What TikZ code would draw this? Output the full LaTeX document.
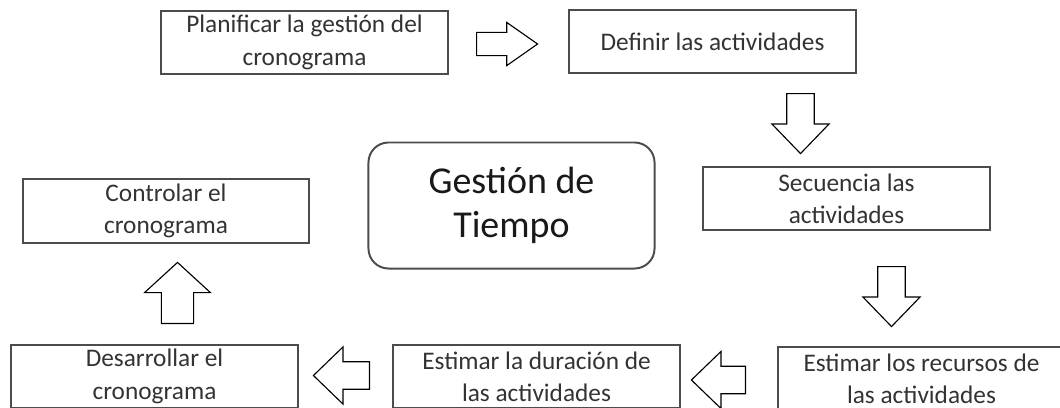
\documentclass[tikz,border=0pt]{standalone}
\usepackage{fontspec}
\setmainfont{Carlito}
\usetikzlibrary{shapes.arrows}

\begin{document}
\begin{tikzpicture}
[x=0.025cm,y=-0.025cm,
 stepbox/.style={rectangle,draw=black!70,line width=1.4pt,minimum width=7.15cm,
   minimum height=1.58cm,inner sep=0pt,align=center,text=black!80,
   font=\fontsize{18}{23}\selectfont},
 centerbox/.style={rectangle,rounded corners=0.5cm,draw=black!70,line width=1.4pt,
   minimum width=7.15cm,minimum height=3.15cm,align=center,text=black!90,
   font=\fontsize{27}{31}\selectfont},
 barrow/.style={single arrow,draw,fill=white,line width=0.8pt,inner xsep=0pt,
   inner ysep=0.33cm,single arrow head extend=0.37cm,minimum height=1.5cm,
   single arrow tip angle=88,anchor=tail}]
   \useasboundingbox (0,0) rectangle (1060,408);
   \clip (0,0) rectangle (1060,408);
   \node[stepbox] (s_1) at (304.5,42.5) {Planificar la gestión del\\cronograma};
   \node[stepbox] (s_2) at (712.5,41.5) {Definir las actividades};
   \node[stepbox] (s_3) at (846.5,198.5) {Secuencia las\\actividades};
   \node[stepbox] (s_4) at (921.5,378.5) {Estimar los recursos de\\las actividades};
   \node[stepbox] (s_5) at (536.5,376.5) {Estimar la duración de\\las actividades};
   \node[stepbox] (s_6) at (154.5,376.5) {Desarrollar el\\cronograma};
   \node[stepbox] (s_7) at (166,211) {Controlar el\\cronograma};
   \node[centerbox] (g) at (511.5,205.5) {Gestión de\\Tiempo};
   % block arrows between the steps
   \node[barrow,inner ysep=0.275cm,single arrow head extend=0.25cm,
     minimum height=1.525cm,single arrow tip angle=70] (a_1) at (476,44) {};
   \node[barrow,rotate=-90] (a_2) at (800.5,93) {};
   \node[barrow,rotate=-90] (a_3) at (891.5,266) {};
   \node[barrow,rotate=180,minimum height=1.35cm] (a_4) at (746,380) {};
   \node[barrow,rotate=180,minimum height=1.4cm] (a_5) at (370,375.5) {};
   \node[barrow,rotate=90,inner ysep=0.39cm,single arrow head extend=0.42cm,
     minimum height=1.525cm,single arrow tip angle=95] (a_6) at (177.5,324) {};

\end{tikzpicture}
\end{document}
